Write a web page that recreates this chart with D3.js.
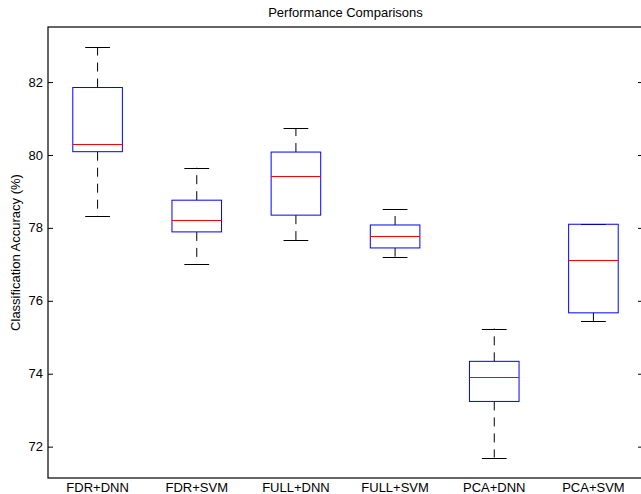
<!DOCTYPE html>
<meta charset="utf-8">
<style>
  body { margin: 0; background: #fff; }
  text { font-family: "Liberation Sans", Arial, sans-serif; font-size: 13px; fill: #000; }
</style>
<svg width="641" height="494"></svg>
<script src="https://d3js.org/d3.v7.min.js"></script>
<script>

var categories = ["FDR+DNN", "FDR+SVM", "FULL+DNN", "FULL+SVM", "PCA+DNN", "PCA+SVM"];
var lowerWhisker = [78.33, 77.01, 77.67, 77.21, 71.70, 75.45];
var q1 = [80.09, 77.89, 78.35, 77.45, 73.24, 75.67];
var median = [80.30, 78.21, 79.42, 77.78, 73.90, 77.11];
var q3 = [81.85, 78.76, 80.08, 78.08, 74.34, 78.10];
var upperWhisker = [82.96, 79.65, 80.74, 78.52, 75.24, 78.10];
var yTicks = [72, 74, 76, 78, 80, 82];

var svg = d3.select("svg"),
    margin = {left: 48, top: 27, right: 643, bottom: 478};

var x = d3.scaleLinear().domain([0.5, 6.5]).range([margin.left, margin.right]);
var y = d3.scaleLinear().domain([71.14, 83.51]).range([margin.bottom, margin.top]);

var boxes = categories.map(function(c, i) {
  return {name: c, pos: i + 1, lo: lowerWhisker[i], q1: q1[i], med: median[i], q3: q3[i], hi: upperWhisker[i]};
});

var g = svg.append("g");

// whiskers (dashed)
g.selectAll(".whisk-up").data(boxes).enter().append("line")
  .attr("x1", d => x(d.pos)).attr("x2", d => x(d.pos))
  .attr("y1", d => y(d.q3)).attr("y2", d => y(d.hi))
  .attr("stroke", "#000").attr("stroke-dasharray", "9,7");
g.selectAll(".whisk-lo").data(boxes).enter().append("line")
  .attr("x1", d => x(d.pos)).attr("x2", d => x(d.pos))
  .attr("y1", d => y(d.q1)).attr("y2", d => y(d.lo))
  .attr("stroke", "#000").attr("stroke-dasharray", "9,7");

// caps
["hi", "lo"].forEach(function(k) {
  g.selectAll(".cap-" + k).data(boxes).enter().append("line")
    .attr("x1", d => x(d.pos - 0.125)).attr("x2", d => x(d.pos + 0.125))
    .attr("y1", d => Math.round(y(d[k])) + 0.5).attr("y2", d => Math.round(y(d[k])) + 0.5)
    .attr("stroke", "#000");
});

// boxes
g.selectAll(".box").data(boxes).enter().append("rect")
  .attr("x", d => x(d.pos - 0.25)).attr("width", d => x(d.pos + 0.25) - x(d.pos - 0.25))
  .attr("y", d => y(d.q3)).attr("height", d => y(d.q1) - y(d.q3))
  .attr("fill", "none").attr("stroke", "#0000ff");

// medians
g.selectAll(".med").data(boxes).enter().append("line")
  .attr("x1", d => x(d.pos - 0.25)).attr("x2", d => x(d.pos + 0.25))
  .attr("y1", d => Math.round(y(d.med)) + 0.5).attr("y2", d => Math.round(y(d.med)) + 0.5)
  .attr("stroke", "#ff0000");

// frame
svg.append("rect")
  .attr("x", margin.left).attr("y", margin.top)
  .attr("width", margin.right - margin.left).attr("height", margin.bottom - margin.top)
  .attr("fill", "none").attr("stroke", "#000").attr("stroke-width", 1.2);

// y axes, ticks inward
svg.append("g")
  .attr("transform", "translate(" + margin.left + ",0)")
  .call(d3.axisRight(y).tickValues(yTicks).tickSize(5).tickFormat(""))
  .call(a => a.select(".domain").remove());
svg.append("g")
  .attr("transform", "translate(" + margin.right + ",0)")
  .call(d3.axisLeft(y).tickValues(yTicks).tickSize(5).tickFormat(""))
  .call(a => a.select(".domain").remove());

svg.selectAll(".ylab").data(yTicks).enter().append("text")
  .attr("x", margin.left - 5).attr("y", d => y(d))
  .attr("dy", "0.35em").attr("text-anchor", "end")
  .text(d => d);

// category labels
svg.selectAll(".xlab").data(boxes).enter().append("text")
  .attr("x", d => x(d.pos)).attr("y", 492)
  .attr("text-anchor", "middle")
  .text(d => d.name);

// title and y label
svg.append("text")
  .attr("x", (margin.left + margin.right) / 2).attr("y", 17)
  .attr("text-anchor", "middle")
  .text("Performance Comparisons");

svg.append("text")
  .attr("transform", "translate(20," + (margin.top + margin.bottom) / 2 + ") rotate(-90)")
  .attr("text-anchor", "middle")
  .text("Classification Accuracy (%)");

</script>
